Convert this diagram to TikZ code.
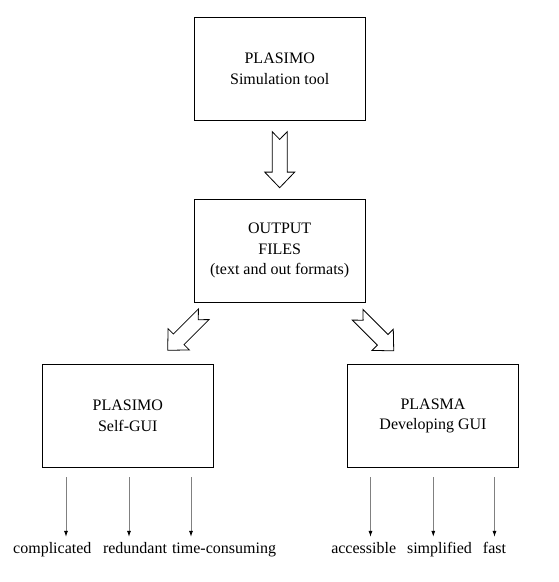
\documentclass[tikz,border=0pt]{standalone}
\usepackage{fontspec}
\setmainfont{Liberation Serif}
\usetikzlibrary{arrows.meta,calc}

\tikzset{
  box/.style={draw,line width=1pt,minimum width=171pt,minimum height=103pt,
    align=center,font=\fontsize{16}{20.5}\selectfont},
  word/.style={inner sep=0pt,anchor=base,text height=11pt,text depth=4pt,
    font=\fontsize{16}{20}\selectfont},
  fall/.style={draw=gray,line width=0.8pt,
    -{Latex[color=black,length=6pt,width=4pt]},shorten >=5.3pt},
  pics/fat arrow/.style={code={
    \draw[line width=0.8pt,fill=white] ({-#1/2},7.5) -- ({#1/2-15.6},7.5)
      -- ({#1/2-15.6},15) -- ({#1/2},0) -- ({#1/2-15.6},-15)
      -- ({#1/2-15.6},-7.5) -- ({-#1/2},-7.5) -- ({-#1/2+7.7},0) -- cycle;
  }}
}

\begin{document}
\begin{tikzpicture}[x=1pt,y=-1pt]
\useasboundingbox (0,0) rectangle (559,582);

\node[box] (tool) at (279.7,68.6) {PLASIMO\\Simulation tool};
\node[box] (files) at (279.7,250.8) {OUTPUT\\FILES\\(text and out formats)};
\node[box] (selfgui) at (127.8,416) {PLASIMO\\Self-GUI};
\node[box] (devgui) at (433,416) {PLASMA\\Developing GUI};

\pic[rotate=-90] at ($(tool.south)!0.5!(files.north)$) {fat arrow=56};
\pic[rotate=225] at ($(files.south)+(-94,29.5)$) {fat arrow=51};
\pic[rotate=-45] at ($(files.south)+(96,30)$) {fat arrow=51};

% words under the two GUIs
\node[word] (w1) at (52.3,553.3) {complicated};
\node[word] (w2) at (135,553.3) {redundant};
\node[word] (w3) at (224,553.3) {time-consuming};
\node[word] (w4) at (363.7,553.3) {accessible};
\node[word] (w5) at (439.5,553.3) {simplified};
\node[word] (w6) at (494.5,553.3) {fast};

\coordinate (s1) at (66,477);
\coordinate (s2) at (129,477);
\coordinate (s3) at (191,477);
\coordinate (s4) at (370.5,477);
\coordinate (s5) at (433.3,477);
\coordinate (s6) at (494.5,477);
\draw[fall] (s1) -- (s1 |- w1.north);
\draw[fall] (s2) -- (s2 |- w2.north);
\draw[fall] (s3) -- (s3 |- w3.north);
\draw[fall] (s4) -- (s4 |- w4.north);
\draw[fall] (s5) -- (s5 |- w5.north);
\draw[fall] (s6) -- (s6 |- w6.north);
\end{tikzpicture}
\end{document}
